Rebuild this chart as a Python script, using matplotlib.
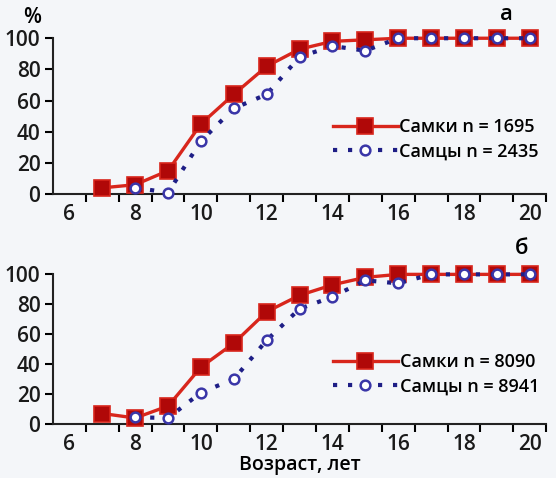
import matplotlib.pyplot as plt
import numpy as np

# Age groups (years) and share of mature fish (%)
ages_f = [7, 8, 9, 10, 11, 12, 13, 14, 15, 16, 17, 18, 19, 20]
ages_m = [8, 9, 10, 11, 12, 13, 14, 15, 16, 17, 18, 19, 20]

females_a = [4, 6, 15, 45, 64, 82, 93, 98, 99, 100, 100, 100, 100, 100]
males_a = [4, 1, 34, 55, 64, 88, 95, 92, 100, 100, 100, 100, 100]

females_b = [7, 4, 12, 38, 54, 75, 86, 93, 98, 100, 100, 100, 100, 100]
males_b = [4.5, 4, 21, 30, 56, 77, 85, 96, 94, 100, 100, 100, 100]

labels_a = ["Самки n = 1695", "Самцы n = 2435"]
labels_b = ["Самки n = 8090", "Самцы n = 8941"]

bg = "#f4f6f9"
red = "#d8261c"
darkred = "#b00808"
blue = "#1e1e86"

plt.rcParams['font.family'] = ['Open Sans', 'DejaVu Sans']

fig = plt.figure(figsize=(5.56, 4.78), dpi=100, facecolor=bg)
ax_a = fig.add_axes([0.0953, 0.594, 0.887, 0.326])
ax_b = fig.add_axes([0.0953, 0.113, 0.887, 0.313])


def draw(ax, fem, mal, labels, letter, leg_y, letter_xy):
    ax.set_facecolor(bg)
    ax.plot(ages_f, fem, color=red, lw=2.4, marker='s', markersize=12,
            markerfacecolor=darkred, markeredgecolor=red, markeredgewidth=1.2,
            label=labels[0], clip_on=False, zorder=3)
    ax.plot(ages_m, mal, color=blue, lw=3, linestyle=(0, (1.0, 2.6)),
            marker='o', markersize=7, markerfacecolor='white',
            markeredgecolor='#3a36a8', markeredgewidth=1.8,
            label=labels[1], clip_on=False, zorder=4)
    ax.set_xlim(5.5, 20.5)
    ax.set_ylim(0, 100)
    ax.set_yticks(np.arange(0, 101, 20))
    ax.set_xticks(np.arange(6, 21, 2))
    ax.set_xticks(np.arange(6.5, 20.6, 1), minor=True)
    ax.tick_params(axis='x', which='major', length=0, pad=7, labelsize=15)
    ax.tick_params(axis='x', which='minor', length=6, width=1.5, direction='out')
    ax.tick_params(axis='y', length=6, width=1.5, labelsize=15, pad=3)
    for s in ['top', 'right']:
        ax.spines[s].set_visible(False)
    for s in ['left', 'bottom']:
        ax.spines[s].set_linewidth(1.5)
        ax.spines[s].set_color('#222222')
    for lab in ax.get_xticklabels() + ax.get_yticklabels():
        lab.set_fontweight('semibold')
        lab.set_color('#1a1a1a')
    ax.legend(loc='lower right', bbox_to_anchor=(1.0, leg_y), frameon=False,
              handlelength=3.6, handletextpad=0.1,
              labelspacing=0.35, borderaxespad=0, numpoints=1,
              prop={'weight': 'semibold', 'size': 13})
    ax.text(letter_xy[0], letter_xy[1], letter, transform=ax.transAxes,
            fontsize=16, fontweight='semibold', ha='center', va='center')


draw(ax_a, females_a, males_a, labels_a, "а", 0.17, (0.92, 1.15))
draw(ax_b, females_b, males_b, labels_b, "б", 0.14, (0.95, 1.17))

ax_a.text(-0.025, 1.13, "%", transform=ax_a.transAxes, fontsize=15,
          fontweight='semibold', ha='right', va='center')
ax_b.set_xlabel("Возраст, лет", fontsize=14, fontweight='semibold', labelpad=0)

fig.savefig("out.png", dpi=100, facecolor=bg)
